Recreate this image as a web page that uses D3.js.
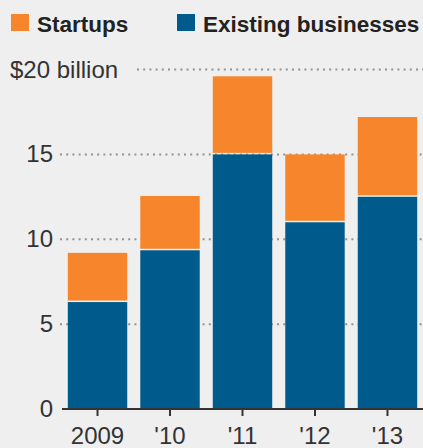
<!DOCTYPE html>
<html>
<head>
<meta charset="utf-8">
<script src="https://cdn.jsdelivr.net/npm/d3@7"></script>
<style>
  html, body { margin: 0; padding: 0; background: #efefef; }
  svg { display: block; }
  text { font-family: "Liberation Sans", Arial, sans-serif; }
</style>
</head>
<body>
<svg id="chart" width="423" height="448"></svg>
<script>
// Financing by year, in billions of dollars
const years = ["2009", "'10", "'11", "'12", "'13"];
const existing = [6.3, 9.35, 15.0, 11.0, 12.5];
const startups = [2.9, 3.2, 4.6, 4.0, 4.7];
const tickValues = [0, 5, 10, 15, 20];
const tickLabels = ["0", "5", "10", "15", "$20 billion"];
const seriesNames = ["Startups", "Existing businesses"];

const colors = { startups: "#f7852b", existing: "#005b8d" };
const W = 423, H = 448;
const svg = d3.select("#chart");

const x = d3.scaleBand()
  .domain(years)
  .range([62, 423])
  .paddingInner(0.18)
  .paddingOuter(0.08);

const y = d3.scaleLinear().domain([0, 20]).range([409, 69.5]);

// Dotted gridlines behind the bars
const grid = svg.append("g");
tickValues.filter(v => v > 0).forEach(v => {
  const startX = v === 20 ? 137 : 60;
  grid.append("line")
    .attr("x1", startX).attr("x2", W)
    .attr("y1", y(v)).attr("y2", y(v))
    .attr("stroke", "#929292")
    .attr("stroke-width", 2)
    .attr("stroke-dasharray", "2,4.2");
});

// Y labels
svg.append("g").selectAll("text")
  .data(tickValues)
  .join("text")
  .attr("x", d => d === 20 ? 10 : 53)
  .attr("y", d => y(d) + 8)
  .attr("text-anchor", d => d === 20 ? "start" : "end")
  .attr("font-size", 24)
  .attr("fill", "#333")
  .text((d, i) => tickLabels[i]);

// Stacked bars
const data = years.map((yr, i) => ({ yr, existing: existing[i], startups: startups[i] }));
const bars = svg.append("g");
bars.selectAll("rect.existing")
  .data(data)
  .join("rect")
  .attr("class", "existing")
  .attr("x", d => x(d.yr))
  .attr("width", x.bandwidth())
  .attr("y", d => y(d.existing))
  .attr("height", d => y(0) - y(d.existing))
  .attr("fill", colors.existing);

bars.selectAll("rect.startups")
  .data(data)
  .join("rect")
  .attr("class", "startups")
  .attr("x", d => x(d.yr))
  .attr("width", x.bandwidth())
  .attr("y", d => y(d.existing + d.startups))
  .attr("height", d => y(d.existing) - y(d.existing + d.startups) - 1.5)
  .attr("fill", colors.startups);

// X axis
const xAxis = svg.append("g").attr("transform", "translate(0,409)");
xAxis.append("line")
  .attr("x1", 62).attr("x2", W)
  .attr("stroke", "#333").attr("stroke-width", 2);
xAxis.selectAll("line.tick")
  .data(years)
  .join("line")
  .attr("class", "tick")
  .attr("x1", d => x(d) + x.bandwidth() / 2)
  .attr("x2", d => x(d) + x.bandwidth() / 2)
  .attr("y1", 0).attr("y2", 7)
  .attr("stroke", "#333").attr("stroke-width", 2);
xAxis.selectAll("text")
  .data(years)
  .join("text")
  .attr("x", d => x(d) + x.bandwidth() / 2)
  .attr("y", 35)
  .attr("text-anchor", "middle")
  .attr("font-size", 24)
  .attr("fill", "#333")
  .text(d => d);

// Legend
const legend = svg.append("g");
const legendItems = [
  { name: seriesNames[0], color: colors.startups, x: 11 },
  { name: seriesNames[1], color: colors.existing, x: 177 }
];
legendItems.forEach(it => {
  legend.append("rect")
    .attr("x", it.x).attr("y", 14)
    .attr("width", 18).attr("height", 17)
    .attr("fill", it.color);
  legend.append("text")
    .attr("x", it.x + 26).attr("y", 32)
    .attr("font-size", 22.5)
    .attr("font-weight", "bold")
    .attr("fill", "#222")
    .text(it.name);
});
</script>
</body>
</html>
